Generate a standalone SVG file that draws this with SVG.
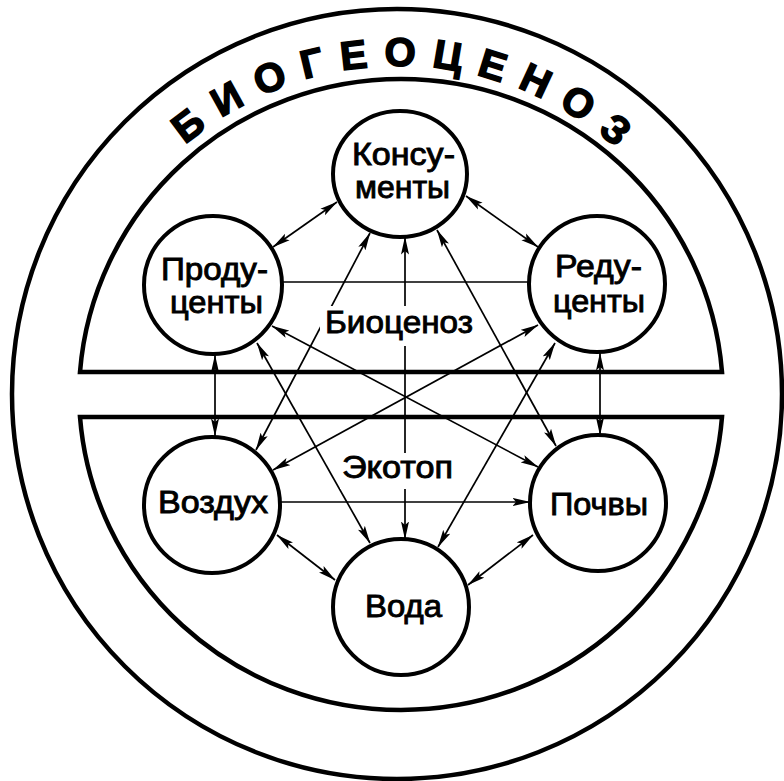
<svg xmlns="http://www.w3.org/2000/svg" width="784" height="781" viewBox="0 0 784 781">
<defs>
<style>
.frame{fill:none;stroke:#000;stroke-width:4.5;stroke-linejoin:miter}
.node{fill:#fff;stroke:#000;stroke-width:4}
.c{fill:none;stroke:#000;stroke-width:1.7}
.b{marker-start:url(#ah);marker-end:url(#ah)}
.e{marker-end:url(#ah)}
.t{font-family:"Liberation Sans",Arial,sans-serif;font-size:31px;fill:#000;stroke:#000;stroke-width:0.9;text-anchor:middle}
.title{font-family:"Liberation Sans",Arial,sans-serif;font-size:40px;font-weight:bold;fill:#000;stroke:#000;stroke-width:1.6;letter-spacing:16px}
</style>
<marker id="ah" viewBox="0 0 18 9" refX="17.5" refY="4.5" markerWidth="18" markerHeight="9" markerUnits="userSpaceOnUse" orient="auto-start-reverse">
<path d="M0,0.5 L18,4.5 L0,8.5 L3.5,4.5 Z" fill="#000"/>
</marker>
<path id="arc" d="M114.9,230 A328,328 0 0,1 683.1,230"/>
</defs>
<rect width="784" height="781" fill="#fff"/>
<g id="frame">
<circle class="frame" cx="397" cy="394" r="385"/>
<path class="frame" d="M80,372 A322,318 0 0,1 722,372 Z"/>
<path class="frame" d="M80,417 A322,318 0 0,0 722,417 Z"/>
</g>
<g id="title">
<text class="title"><textPath href="#arc" startOffset="51.5%" text-anchor="middle">БИОГЕОЦЕНОЗ</textPath></text>
</g>
<g id="connectors">
<path class="c b" d="M273,247 L337,202"/>
<path class="c b" d="M466,196 L538,247"/>
<path class="c" d="M282,282 L529,282"/>
<path class="c b" d="M405,237 L405,539"/>
<path class="c b" d="M215,355 L215,436"/>
<path class="c b" d="M600,353 L600,435"/>
<path class="c e" d="M281,502 L530,502"/>
<path class="c b" d="M277,535 L335,580"/>
<path class="c b" d="M533,535 L468,585"/>
<path class="c b" d="M370,233 L256,450"/>
<path class="c b" d="M437,230 L556,446"/>
<path class="c b" d="M257,343 L370,543"/>
<path class="c b" d="M555,343 L438,547"/>
<path class="c b" d="M538,467 L272,326"/>
<path class="c b" d="M538,325 L273,470"/>
</g>
<g id="biocenoz">
<rect x="320" y="306" width="154" height="40" fill="#fff"/>
<text class="t" x="399" y="333" font-size="29" textLength="148" lengthAdjust="spacingAndGlyphs">Биоценоз</text>
</g>
<g id="ekotop">
<rect x="340" y="453" width="118" height="36" fill="#fff"/>
<text class="t" x="397.5" y="478" font-size="29" textLength="111" lengthAdjust="spacingAndGlyphs">Экотоп</text>
</g>
<g id="konsumenty">
<ellipse class="node" cx="400" cy="174" rx="67" ry="63"/>
<text class="t" x="403.5" y="165" textLength="103" lengthAdjust="spacingAndGlyphs">Консу-</text>
<text class="t" x="402.5" y="198" textLength="95" lengthAdjust="spacingAndGlyphs">менты</text>
</g>
<g id="producenty">
<circle class="node" cx="213" cy="285" r="69"/>
<text class="t" x="214.5" y="280" textLength="107" lengthAdjust="spacingAndGlyphs">Проду-</text>
<text class="t" x="216.5" y="313" textLength="93" lengthAdjust="spacingAndGlyphs">центы</text>
</g>
<g id="reducenty">
<circle class="node" cx="597" cy="284" r="68"/>
<text class="t" x="598.5" y="277" textLength="87" lengthAdjust="spacingAndGlyphs">Реду-</text>
<text class="t" x="599" y="312" textLength="92" lengthAdjust="spacingAndGlyphs">центы</text>
</g>
<g id="vozduh">
<circle class="node" cx="212" cy="505" r="68"/>
<text class="t" x="213" y="513" textLength="110" lengthAdjust="spacingAndGlyphs">Воздух</text>
</g>
<g id="pochvy">
<circle class="node" cx="598" cy="503" r="68"/>
<text class="t" x="599" y="515" textLength="98" lengthAdjust="spacingAndGlyphs">Почвы</text>
</g>
<g id="voda">
<circle class="node" cx="401" cy="607" r="68"/>
<text class="t" x="403.5" y="617" textLength="77" lengthAdjust="spacingAndGlyphs">Вода</text>
</g>
</svg>
